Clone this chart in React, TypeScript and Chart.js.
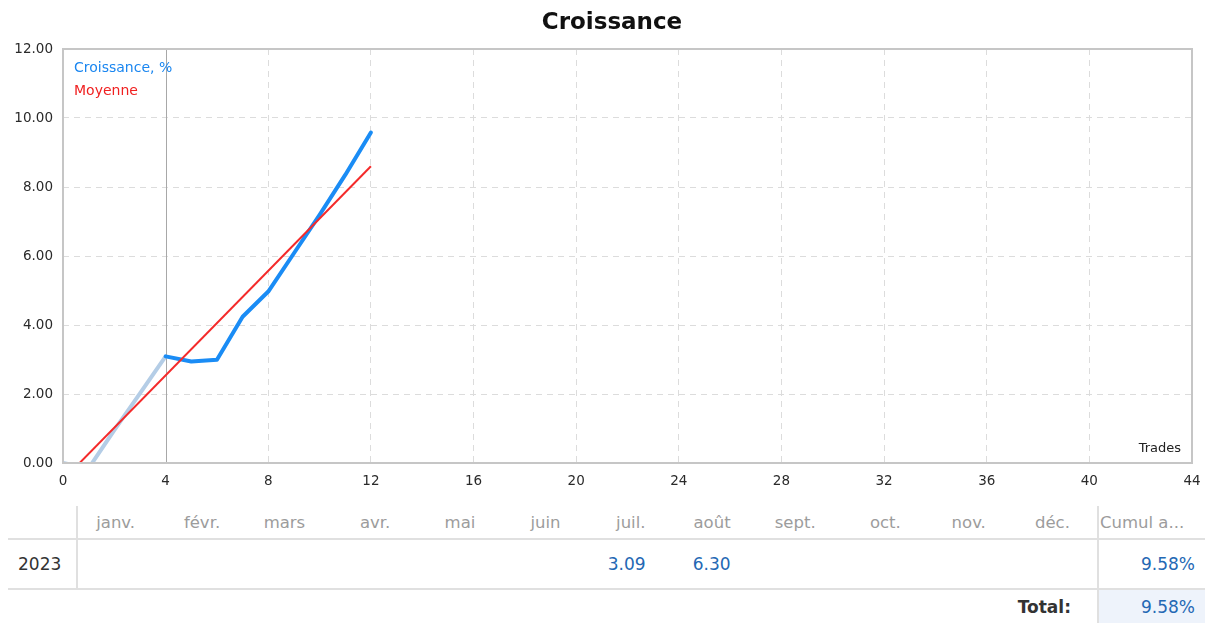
import React, { useEffect, useRef } from "react";
import { Chart, registerables } from "chart.js";

Chart.register(...registerables);

const titleText = "Croissance";
const growthLabel = "Croissance, %";
const averageLabel = "Moyenne";
const axisNote = "Trades";

const earlyTrades = [0, 1, 2, 3, 4];
const earlyGrowth = [0, -0.15, 0.95, 2.02, 3.09];
const laterTrades = [4, 5, 6, 7, 8, 9, 10, 11, 12];
const laterGrowth = [3.09, 2.94, 2.99, 4.24, 4.97, 6.08, 7.19, 8.35, 9.58];
const averageTrades = [0, 12];
const averageGrowth = [-0.49, 8.6];
const markerTrade = 4;

const xTickStep = 4;
const xMax = 44;
const yTickStep = 2;
const yMax = 12;

const yearLabel = "2023";
const monthLabels = ["janv.", "févr.", "mars", "avr.", "mai", "juin", "juil.", "août", "sept.", "oct.", "nov.", "déc."];
const monthValues = ["", "", "", "", "", "", "3.09", "6.30", "", "", "", ""];
const cumulHeader = "Cumul a...";
const cumulValue = "9.58%";
const totalLabel = "Total:";
const totalValue = "9.58%";

const toPoints = (xs: number[], ys: number[]) => xs.map((x, i) => ({ x, y: ys[i] }));

const decorPlugin = {
  id: "decor",
  beforeDatasetsDraw(chart: any) {
    const { ctx, chartArea, scales } = chart;
    const x = scales.x.getPixelForValue(markerTrade);
    ctx.save();
    ctx.strokeStyle = "#a8a8a8";
    ctx.lineWidth = 1;
    ctx.beginPath();
    ctx.moveTo(Math.round(x) + 0.5, chartArea.top);
    ctx.lineTo(Math.round(x) + 0.5, chartArea.bottom);
    ctx.stroke();
    ctx.restore();
  },
  afterDraw(chart: any) {
    const { ctx, chartArea } = chart;
    ctx.save();
    ctx.strokeStyle = "#c6c6c6";
    ctx.lineWidth = 2;
    ctx.strokeRect(chartArea.left, chartArea.top, chartArea.right - chartArea.left, chartArea.bottom - chartArea.top);
    // title
    ctx.fillStyle = "#111";
    ctx.font = "bold 23px 'DejaVu Sans'";
    ctx.textAlign = "center";
    ctx.textBaseline = "middle";
    ctx.fillText(titleText, 612, 23);
    // legend
    ctx.textAlign = "left";
    ctx.font = "14px 'DejaVu Sans'";
    const ds = chart.data.datasets;
    ctx.fillStyle = "#1a86f0";
    ctx.fillText(ds[1].label, chartArea.left + 11, chartArea.top + 19);
    ctx.fillStyle = "#f02020";
    ctx.fillText(ds[0].label, chartArea.left + 11, chartArea.top + 42);
    // axis note
    ctx.fillStyle = "#222";
    ctx.textAlign = "right";
    ctx.font = "13px 'DejaVu Sans'";
    ctx.fillText(axisNote, chartArea.right - 11, chartArea.bottom - 14);
    ctx.restore();
  },
};

function GrowthChart() {
  const ref = useRef<HTMLCanvasElement | null>(null);
  useEffect(() => {
    if (!ref.current) return;
    const chart = new Chart(ref.current, {
      type: "line",
      data: {
        datasets: [
          {
            label: averageLabel,
            data: toPoints(averageTrades, averageGrowth),
            borderColor: "#f42a2a",
            borderWidth: 2,
            pointRadius: 0,
            order: 0,
          },
          {
            label: growthLabel,
            data: toPoints(laterTrades, laterGrowth),
            borderColor: "#1a8cf5",
            borderWidth: 4,
            pointRadius: 0,
            borderJoinStyle: "round",
            borderCapStyle: "round",
            order: 1,
          },
          {
            label: growthLabel,
            data: toPoints(earlyTrades, earlyGrowth),
            borderColor: "#b4cde6",
            borderWidth: 4,
            pointRadius: 0,
            borderJoinStyle: "round",
            order: 2,
          },
        ],
      },
      options: {
        animation: false,
        responsive: false,
        maintainAspectRatio: false,
        layout: { padding: { left: 0, right: 13, top: 49, bottom: 0 } },
        plugins: {
          legend: { display: false },
          title: { display: false },
          tooltip: { enabled: false },
        },
        elements: { line: { tension: 0 } },
        scales: {
          x: {
            type: "linear",
            min: 0,
            max: xMax,
            afterFit: (s: any) => {
              s.height = 37;
              s.paddingLeft = 0;
              s.paddingRight = 0;
            },
            ticks: {
              stepSize: xTickStep,
              padding: 10,
              color: "#2a2a2a",
              font: { family: "'DejaVu Sans'", size: 13.5 },
              maxRotation: 0,
            },
            grid: {
              color: (c: any) => (c.tick && c.tick.value === markerTrade ? "rgba(0,0,0,0)" : "#dcdcdc"),
              lineWidth: 1,
              drawTicks: false,
            },
            border: { display: false, dash: [6, 5] },
          },
          y: {
            type: "linear",
            min: 0,
            max: yMax,
            afterFit: (s: any) => {
              s.width = 63;
              s.paddingTop = 0;
              s.paddingBottom = 0;
            },
            ticks: {
              stepSize: yTickStep,
              padding: 10,
              color: "#2a2a2a",
              font: { family: "'DejaVu Sans'", size: 13.5 },
              callback: (v: any) => Number(v).toFixed(2),
            },
            grid: { color: "#dcdcdc", lineWidth: 1, drawTicks: false },
            border: { display: false, dash: [6, 5] },
          },
        },
      },
      plugins: [decorPlugin],
    } as any);
    return () => chart.destroy();
  }, []);
  return <canvas ref={ref} width={1205} height={500} style={{ position: "absolute", left: 0, top: 0, width: 1205, height: 500 }} />;
}

const font = "'DejaVu Sans', sans-serif";
const lineColor = "#e0e0e0";

export default function App() {
  const colW = 1021 / 12;
  const cell: React.CSSProperties = {
    padding: 0,
    whiteSpace: "nowrap",
    overflow: "hidden",
  };
  return (
    <div style={{ position: "absolute", left: 0, top: 0, width: 1205, height: 623, overflow: "hidden", background: "#fff" }}>
      <GrowthChart />
      <table
        style={{
          position: "absolute",
          left: 8,
          top: 506,
          width: 1197,
          borderCollapse: "collapse",
          tableLayout: "fixed",
          fontFamily: font,
          fontSize: 17,
        }}
      >
        <colgroup>
          <col style={{ width: 69 }} />
          {monthLabels.map((m) => (
            <col key={m} style={{ width: colW }} />
          ))}
          <col style={{ width: 107 }} />
        </colgroup>
        <tbody>
          <tr style={{ height: 33 }}>
            <td style={{ ...cell, borderRight: `2px solid ${lineColor}` }}></td>
            {monthLabels.map((m) => (
              <td key={m} style={{ ...cell, textAlign: "right", paddingRight: 27, color: "#9c9c9c", fontSize: 16.5 }}>
                {m}
              </td>
            ))}
            <td style={{ ...cell, borderLeft: `2px solid ${lineColor}`, paddingLeft: 1, color: "#9c9c9c", fontSize: 16.5 }}>{cumulHeader}</td>
          </tr>
          <tr style={{ height: 50, borderTop: `2px solid ${lineColor}`, borderBottom: `2px solid ${lineColor}` }}>
            <td style={{ ...cell, paddingLeft: 10, color: "#333", borderRight: `2px solid ${lineColor}` }}>{yearLabel}</td>
            {monthValues.map((v, i) => (
              <td key={i} style={{ ...cell, textAlign: "right", paddingRight: 27, color: "#2468b4" }}>
                {v}
              </td>
            ))}
            <td style={{ ...cell, borderLeft: `2px solid ${lineColor}`, textAlign: "right", paddingRight: 10, color: "#2468b4" }}>{cumulValue}</td>
          </tr>
          <tr style={{ height: 34 }}>
            <td colSpan={13} style={{ ...cell, textAlign: "right", paddingRight: 26, color: "#333", fontWeight: "bold" }}>
              {totalLabel}
            </td>
            <td style={{ ...cell, borderLeft: `2px solid ${lineColor}`, textAlign: "right", paddingRight: 10, color: "#2468b4", background: "#eef3fb" }}>
              {totalValue}
            </td>
          </tr>
        </tbody>
      </table>
    </div>
  );
}
